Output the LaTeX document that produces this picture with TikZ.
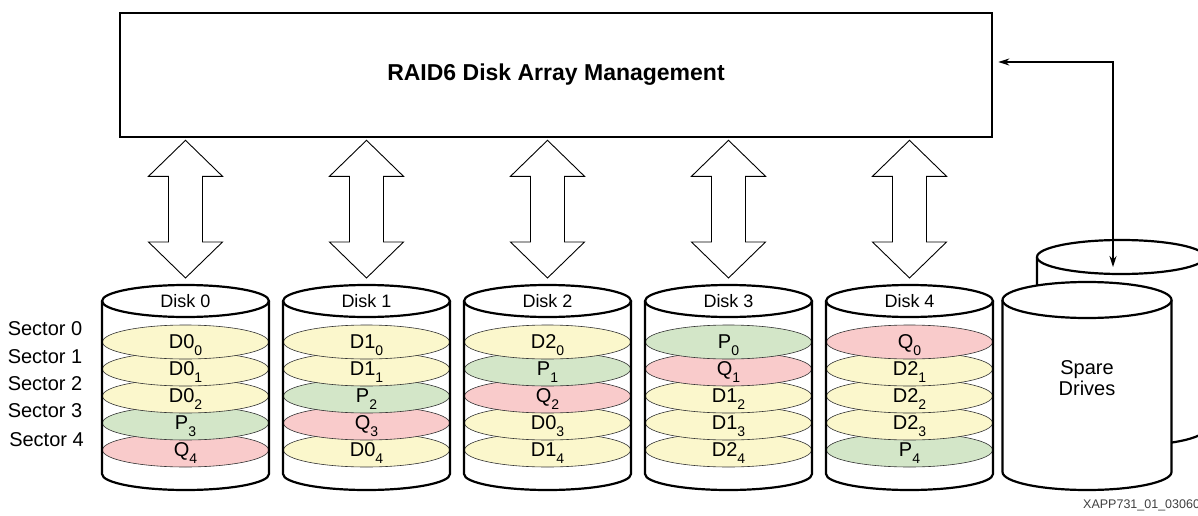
\documentclass[tikz,border=0pt]{standalone}
\usepackage{fontspec}
\setmainfont{Liberation Sans}
\usetikzlibrary{positioning, calc, shapes.geometric, arrows.meta}

\definecolor{dataYellow}{RGB}{251,247,204}
\definecolor{parityGreen}{RGB}{211,230,200}
\definecolor{syndRed}{RGB}{249,203,203}

% lowered index of a block, e.g. D0 with 3
\newcommand{\Idx}[1]{\raisebox{-0.33em}{\fontsize{14}{14}\selectfont #1}}
% one stripe on a disk: disk, row, colour, text
\newcommand{\Sector}[4]{%
  \node[sector, fill=#3] (d#1s#2) at ($(disk#1.center)+(0,{41+27*#2})$) {#4};}
% hollow two-headed arrow between two tips
\newcommand{\BiArrow}[2]{%
  \draw[biarrow] let \p1=#1, \p2=#2 in
    (\p1) -- (\x1+37pt,\y1-36pt) -- (\x1+17pt,\y1-36pt)
    -- (\x1+17pt,\y2+36pt) -- (\x1+37pt,\y2+36pt) -- (\p2)
    -- (\x1-37pt,\y2+36pt) -- (\x1-17pt,\y2+36pt)
    -- (\x1-17pt,\y1-36pt) -- (\x1-37pt,\y1-36pt) -- cycle;}

\tikzset{
    mgmt/.style={draw, line width=2.6pt, minimum width=872pt, minimum height=124pt,
      font=\fontsize{23}{26}\selectfont\bfseries},
    disktop/.style={ellipse, draw, line width=2.2pt, fill=white, outer sep=0pt,
      minimum width=167pt, minimum height=32pt, inner sep=0pt,
      font=\fontsize{18}{20}\selectfont},
    sparetop/.style={disktop, minimum width=#1},
    cyl/.style={line width=2.2pt},
    sector/.style={ellipse, draw=black!80, line width=0.6pt, minimum width=166pt,
      minimum height=34pt, inner sep=0pt, text depth=0pt,
      font=\fontsize{20}{22}\selectfont},
    seclabel/.style={font=\fontsize{20}{21}\selectfont},
    biarrow/.style={draw, line width=0.9pt, fill=white, line join=miter},
    feed/.style={line width=1.2pt,
      {Stealth[length=11pt,width=7pt]}-{Stealth[length=11pt,width=7pt]}},
}

\begin{document}
\begin{tikzpicture}[x=1pt, y=-1pt]
    \useasboundingbox (0,0) rectangle (1198,516);

    \node[mgmt] (raid) at (556,75) {RAID6 Disk Array Management};

    \foreach \i in {0,...,4}
      \node[disktop] (disk\i) at ({185.5+181*\i},301) {Disk \i};

    % stripes, drawn bottom row first
    \Sector{0}{4}{syndRed}{Q\Idx{4}}
    \Sector{0}{3}{parityGreen}{P\Idx{3}}
    \Sector{0}{2}{dataYellow}{D0\Idx{2}}
    \Sector{0}{1}{dataYellow}{D0\Idx{1}}
    \Sector{0}{0}{dataYellow}{D0\Idx{0}}

    \Sector{1}{4}{dataYellow}{D0\Idx{4}}
    \Sector{1}{3}{syndRed}{Q\Idx{3}}
    \Sector{1}{2}{parityGreen}{P\Idx{2}}
    \Sector{1}{1}{dataYellow}{D1\Idx{1}}
    \Sector{1}{0}{dataYellow}{D1\Idx{0}}

    \Sector{2}{4}{dataYellow}{D1\Idx{4}}
    \Sector{2}{3}{dataYellow}{D0\Idx{3}}
    \Sector{2}{2}{syndRed}{Q\Idx{2}}
    \Sector{2}{1}{parityGreen}{P\Idx{1}}
    \Sector{2}{0}{dataYellow}{D2\Idx{0}}

    \Sector{3}{4}{dataYellow}{D2\Idx{4}}
    \Sector{3}{3}{dataYellow}{D1\Idx{3}}
    \Sector{3}{2}{dataYellow}{D1\Idx{2}}
    \Sector{3}{1}{syndRed}{Q\Idx{1}}
    \Sector{3}{0}{parityGreen}{P\Idx{0}}

    \Sector{4}{4}{parityGreen}{P\Idx{4}}
    \Sector{4}{3}{dataYellow}{D2\Idx{3}}
    \Sector{4}{2}{dataYellow}{D2\Idx{2}}
    \Sector{4}{1}{dataYellow}{D2\Idx{1}}
    \Sector{4}{0}{syndRed}{Q\Idx{0}}

    \foreach \i in {0,...,4} {
      \draw[cyl] (disk\i.west) -- ++(0,173)
        arc[start angle=180, end angle=360, x radius=83.5pt, y radius=16pt]
        -- (disk\i.east);
      \BiArrow{($(raid.south -| disk\i.north)+(0,2)$)}{($(disk\i.north)+(0,-7)$)}
    }

    \node[seclabel] (sec0) at (45,329) {Sector 0};
    \node[seclabel] (sec1) at (45,357) {Sector 1};
    \node[seclabel] (sec2) at (45,384) {Sector 2};
    \node[seclabel] (sec3) at (45,411) {Sector 3};
    \node[seclabel] (sec4) at (46.5,440) {Sector 4};

    % spare drives, back one first
    \coordinate (backAxis) at (1121,257);
    \draw[cyl] ($(backAxis)+(-84,0)$) -- ++(0,172)
      arc[start angle=180, end angle=360, x radius=84pt, y radius=17pt] -- ++(0,-172);
    \node[sparetop=168pt, minimum height=34pt] (spareBack) at (backAxis) {};

    \coordinate (frontAxis) at (1087,300);
    \draw[cyl, fill=white] ($(frontAxis)+(-84.5,0)$) -- ++(0,172)
      arc[start angle=180, end angle=360, x radius=84.5pt, y radius=18pt] -- ++(0,-172);
    \node[sparetop=169pt, minimum height=36pt] (spare) at (frontAxis) {};
    \node[seclabel, align=center] (spareText) at (1087,378) {Spare\\Drives};

    \draw[feed] ($(raid.east)+(5,-13)$) -| ($(spareBack.center)+(-8,10)$);

    \node[anchor=west, inner sep=0pt, text=black!75, font=\fontsize{12.5}{14}\selectfont]
      (figid) at (1083,505) {XAPP731\_01\_03060};
\end{tikzpicture}
\end{document}
